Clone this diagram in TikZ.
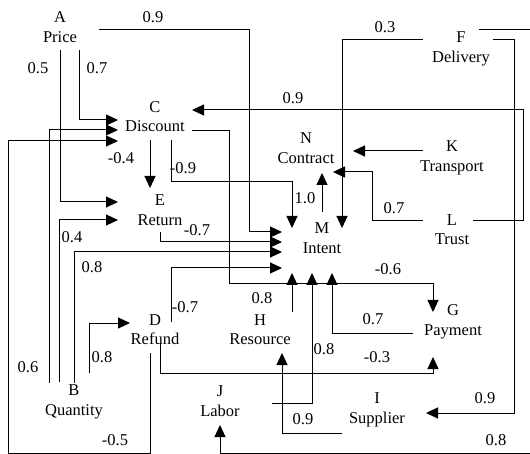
\documentclass[tikz,border=0pt]{standalone}
\usepackage{fontspec}
\setmainfont{Liberation Serif}
\usetikzlibrary{arrows.meta,calc}
\tikzset{
  var/.style={align=center,inner sep=0pt,font=\fontsize{16.5}{19.5}\selectfont},
  wt/.style={inner sep=0pt,font=\fontsize{16.5}{19.5}\selectfont},
  arr/.style={-{Triangle[length=12pt,width=11pt]}},
  conn/.style={line width=1pt}
}
\newcommand{\vlab}[2]{\rule{0pt}{14.1pt}#1\\#2\vphantom{y}}
\begin{document}
\begin{tikzpicture}[x=1pt,y=-1pt]
\fill[white] (0,0) rectangle (530,454);
\useasboundingbox (0,0) rectangle (530,454);
% variables
\node[var] (A) at (60,27) {\vlab{A}{Price}};
\node[var] (C) at (155,116.5) {\vlab{C}{Discount}};
\node[var] (E) at (160,210) {\vlab{E}{Return}};
\node[var] (N) at (306,148) {\vlab{N}{Contract}};
\node[var] (K) at (452,156) {\vlab{K}{Transport}};
\node[var] (F) at (461,47) {\vlab{F}{Delivery}};
\node[var] (L) at (452,229.5) {\vlab{L}{Trust}};
\node[var] (M) at (322,238) {\vlab{M}{Intent}};
\node[var] (G) at (453,320) {\vlab{G}{Payment}};
\node[var] (D) at (155,329.5) {\vlab{D}{Refund}};
\node[var] (H) at (260,329.5) {\vlab{H}{Resource}};
\node[var] (B) at (74,400) {\vlab{B}{Quantity}};
\node[var] (J) at (220,401) {\vlab{J}{Labor}};
\node[var] (I) at (377,408) {\vlab{I}{Supplier}};
% connectors
\begin{scope}[conn]
\draw[arr] ($(A)+(39,3)$) -| (249,232) -- ($(M)+(-40,-6)$);
\draw[arr] ($(A)+(19,23)$) |- ($(C)+(-37,3.5)$);
\draw[arr] ($(A)+(0,23)$) |- ($(E)+(-42,-8)$);
\draw[arr] ($(C)+(-5,23.5)$) -- ($(E)+(-10,-22)$);
\draw[arr] ($(C)+(16,23.5)$) |- (292,182) -- ($(M)+(-30,-10)$);
\draw[arr] ($(C)+(37,14.5)$) -| (229,284) -| ($(G)+(-20,-8)$);
\draw[arr] ($(F)+(-38,-7)$) -| ($(M)+(20,-10)$);
\draw[arr] ($(F)+(32,-7)$) -| (514,413) -- ($(I)+(49,5)$);
\coordinate (Fout) at (530,30);
\draw ($(F)+(18,-17)$) -- (Fout);
\coordinate (Jin) at (530,453);
\draw[arr] (Jin) -| ($(J)+(0,24)$);
\draw[arr] ($(K)+(-29,-5)$) -- ($(N)+(47,3)$);
\draw[arr] ($(L)+(-29,-8.5)$) -| (372,172) -- ($(N)+(27,24)$);
\draw[arr] ($(L)+(21,-8.5)$) -| (523,110) -- ($(C)+(37,-6.5)$);
\draw[arr] ($(M)+(0,-26)$) -- ($(N)+(16,25)$);
\draw[arr] ($(E)+(0,22)$) |- ($(M)+(-40,4)$);
\draw[arr] ($(B)+(0,-17)$) |- ($(M)+(-40,14)$);
\draw[arr] ($(B)+(15,-27)$) |- ($(D)+(-25,-6.5)$);
\draw[arr] ($(B)+(-15,-18)$) |- ($(E)+(-42,10)$);
\draw[arr] ($(B)+(-25,-17)$) |- ($(C)+(-37,13.5)$);
\draw[arr] ($(D)+(16,-7.5)$) |- ($(M)+(-40,30)$);
\draw[arr] ($(D)+(5,13.5)$) |- (433,373) -- ($(G)+(-20,37)$);
\draw[arr] ($(D)+(-5,23.5)$) |- (8,453) |- ($(C)+(-37,24.5)$);
\draw[arr] ($(H)+(32,-17.5)$) -- ($(M)+(-30,35)$);
\draw[arr] ($(J)+(52,2)$) -| ($(M)+(-10,35)$);
\draw[arr] ($(G)+(-40,13)$) -| ($(M)+(10,35)$);
\draw[arr] ($(I)+(-35,25)$) -| ($(H)+(22,23.5)$);
\end{scope}
% weights
\node[wt] (w1) at (153,17) {0.9};
\node[wt] (w2) at (97,68) {0.7};
\node[wt] (w3) at (38,68) {0.5};
\node[wt] (w4) at (121,158) {-0.4};
\node[wt] (w5) at (183,168) {-0.9};
\node[wt] (w6) at (388,269) {-0.6};
\node[wt] (w7) at (385,27) {0.3};
\node[wt] (w8) at (485,398) {0.9};
\node[wt] (w10) at (496,440) {0.8};
\node[wt] (w12) at (394,208) {0.7};
\node[wt] (w13) at (293,98) {0.9};
\node[wt] (w14) at (305,198) {1.0};
\node[wt] (w15) at (197,230) {-0.7};
\node[wt] (w16) at (92,267) {0.8};
\node[wt] (w17) at (102,357) {0.8};
\node[wt] (w18) at (72,237) {0.4};
\node[wt] (w19) at (28,367) {0.6};
\node[wt] (w20) at (185,307) {-0.7};
\node[wt] (w21) at (377,357) {-0.3};
\node[wt] (w22) at (115,440) {-0.5};
\node[wt] (w23) at (262,298) {0.8};
\node[wt] (w24) at (324,349) {0.8};
\node[wt] (w25) at (373,319) {0.7};
\node[wt] (w26) at (303,419) {0.9};
\end{tikzpicture}
\end{document}
